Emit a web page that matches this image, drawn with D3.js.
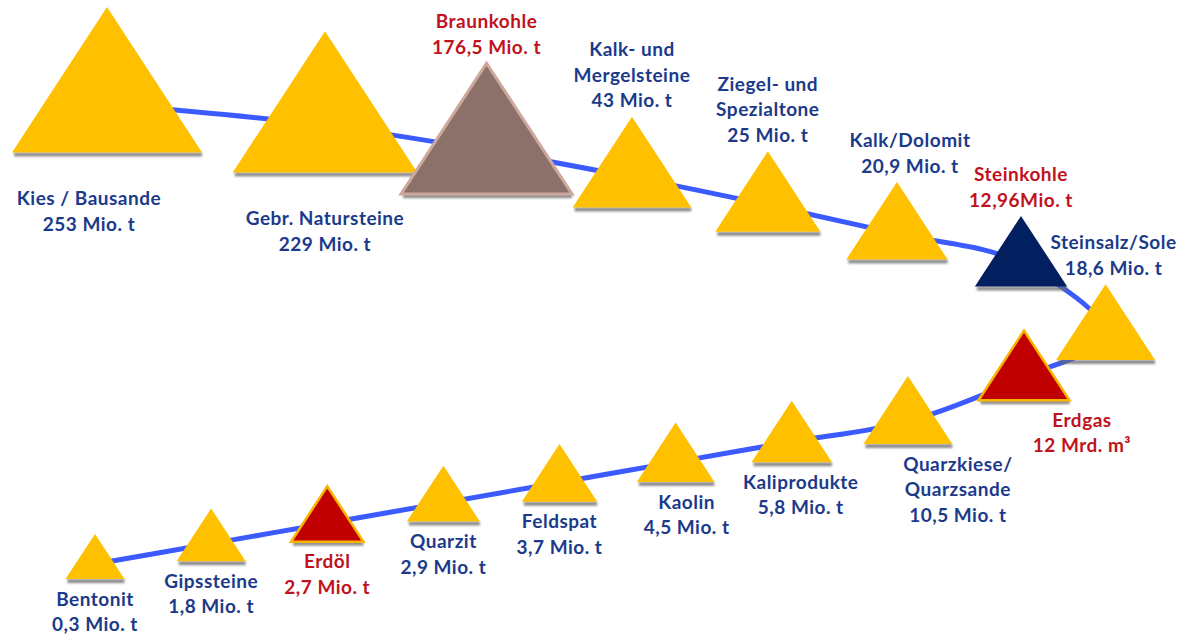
<!DOCTYPE html>
<html>
<head>
<meta charset="utf-8">
<script src="https://cdn.jsdelivr.net/npm/d3@7"></script>
<style>
  body { margin: 0; background: #fff; }
  #canvas svg { display: block; }
  .lbl { font-family: Lato, "Noto Sans", sans-serif; font-weight: 700; font-size: 19px; letter-spacing: 0.5px; }
</style>
</head>
<body>
<div id="canvas"></div>
<script>
// raw materials in the order of the snake (top row left->right, turn, bottom row right->left)
const names = [
  ["Kies / Bausande"], ["Gebr. Natursteine"], ["Braunkohle"], ["Kalk- und", "Mergelsteine"],
  ["Ziegel- und", "Spezialtone"], ["Kalk/Dolomit"], ["Steinkohle"], ["Steinsalz/Sole"],
  ["Erdgas"], ["Quarzkiese/", "Quarzsande"], ["Kaliprodukte"], ["Kaolin"], ["Feldspat"],
  ["Quarzit"], ["Erdöl"], ["Gipssteine"], ["Bentonit"]
];
const values = [253, 229, 176.5, 43, 25, 20.9, 12.96, 18.6, 12, 10.5, 5.8, 4.5, 3.7, 2.9, 2.7, 1.8, 0.3];
const units = [" Mio. t", " Mio. t", " Mio. t", " Mio. t", " Mio. t", " Mio. t", "Mio. t", " Mio. t",
  " Mrd. m³", " Mio. t", " Mio. t", " Mio. t", " Mio. t", " Mio. t", " Mio. t", " Mio. t", " Mio. t"];
const kinds = ["rock", "rock", "lignite", "rock", "rock", "rock", "coal", "rock",
  "fuel", "rock", "rock", "rock", "rock", "rock", "fuel", "rock", "rock"];

const fills = { rock: "#ffc000", lignite: "#8b716a", coal: "#022060", fuel: "#c00000" };
const strokes = { rock: "none", lignite: "#cfa89c", coal: "none", fuel: "#f7b500" };

const W = 1184, H = 640;
const svg = d3.select("#canvas").append("svg").attr("width", W).attr("height", H);

const defs = svg.append("defs");
defs.append("filter").attr("id", "soft")
  .attr("x", "-10%").attr("y", "-100%").attr("width", "120%").attr("height", "300%")
  .append("feGaussianBlur").attr("stdDeviation", 1.3);

const locale = d3.formatLocale({ decimal: ",", thousands: ".", grouping: [3], currency: ["", " €"] });
const fmt = locale.format("~g");

// triangle size from the amount
const sizeScale = d3.scalePow().exponent(0.4).domain(d3.extent(values)).range([59, 190]);
const aspect = 0.765;

// snake layout: top row, one turn slot, bottom row
const lastTop = 6, turnSlot = 7, lastSlot = values.length - 1;
const topStep = d3.scalePow().exponent(0.8).domain([0, lastTop]).range([0, 1]);
const topX = d3.scaleLinear().domain([0, 1]).range([107, 1021]);
const topY = d3.scalePow().exponent(1.4).domain([0, 1]).range([104, 263]);
const bottomX = d3.scaleLinear().domain([turnSlot + 1, lastSlot]).range([1024, 95]);
const bottomY = d3.scaleLinear().domain([95, 910, 1024]).range([564, 421, 377]);
const turnAngle = d3.scaleLinear().domain([lastTop, turnSlot, turnSlot + 1]).range([-90, 15, 90]);

function slotPos(i) {
  if (i <= lastTop) {
    const t = topStep(i);
    return [topX(t), topY(t)];
  }
  if (i > turnSlot) {
    const x = bottomX(i);
    return [x, bottomY(x)];
  }
  const a = slotPos(lastTop), b = slotPos(turnSlot + 1);
  const cx = (a[0] + b[0]) / 2, cy = (a[1] + b[1]) / 2;
  const ry = (b[1] - a[1]) / 2, rx = 86;
  const ang = turnAngle(i) * Math.PI / 180;
  return [cx + rx * Math.cos(ang), cy + ry * Math.sin(ang)];
}

const nodes = values.map((v, i) => {
  const [cx, cy] = slotPos(i);
  const w = sizeScale(v), h = w * aspect;
  return { i, v, cx, cy, w, h, apex: cy - 2 * h / 3, base: cy + h / 3, kind: kinds[i] };
});

// blue connecting line through the centres
const line = d3.line().x(d => d.cx).y(d => d.cy).curve(d3.curveCatmullRom.alpha(0.5));
svg.append("path")
  .attr("d", line(nodes))
  .attr("fill", "none")
  .attr("stroke", "#3b5bff")
  .attr("stroke-width", 5)
  .attr("stroke-linecap", "round");

// shadow band under each base
svg.append("g").selectAll("rect")
  .data(nodes)
  .enter()
  .append("rect")
  .attr("x", d => d.cx - d.w / 2 + 2)
  .attr("y", d => d.base)
  .attr("width", d => d.w - 2)
  .attr("height", 4)
  .attr("fill", "#666")
  .attr("opacity", 0.75)
  .attr("filter", "url(#soft)");

const tri = d3.line();
svg.append("g").selectAll("path")
  .data(nodes)
  .enter()
  .append("path")
  .attr("d", d => tri([[d.cx - d.w / 2, d.base], [d.cx, d.apex], [d.cx + d.w / 2, d.base]]) + "Z")
  .attr("fill", d => fills[d.kind])
  .attr("stroke", d => strokes[d.kind])
  .attr("stroke-width", d => d.kind === "lignite" ? 3 : 2.5)
  .attr("stroke-linejoin", "miter");

// labels
const lineGap = 25.5;
const labelNudge = { 0: -18, 5: 13, 7: 8, 8: 58, 9: 50, 10: 9, 11: 11 };

const labels = svg.append("g").selectAll("text")
  .data(nodes)
  .enter()
  .append("text")
  .attr("class", "lbl")
  .attr("text-anchor", "middle")
  .attr("fill", d => d.kind === "rock" ? "#1b3a8a" : "#c0121c");

labels.each(function (d) {
  const rows = names[d.i].concat(fmt(d.v) + units[d.i]);
  let first = d.apex - 16 - (rows.length - 1) * lineGap;
  if (d.i > turnSlot || first < 12) {
    first = d.base + (d.i <= lastTop ? 46 : 20);
  }
  const x = d.cx + (labelNudge[d.i] || 0);
  d3.select(this).selectAll("tspan")
    .data(rows)
    .enter()
    .append("tspan")
    .attr("x", x)
    .attr("y", (r, k) => first + k * lineGap)
    .attr("dy", "0.35em")
    .text(r => r);
});
</script>
</body>
</html>
